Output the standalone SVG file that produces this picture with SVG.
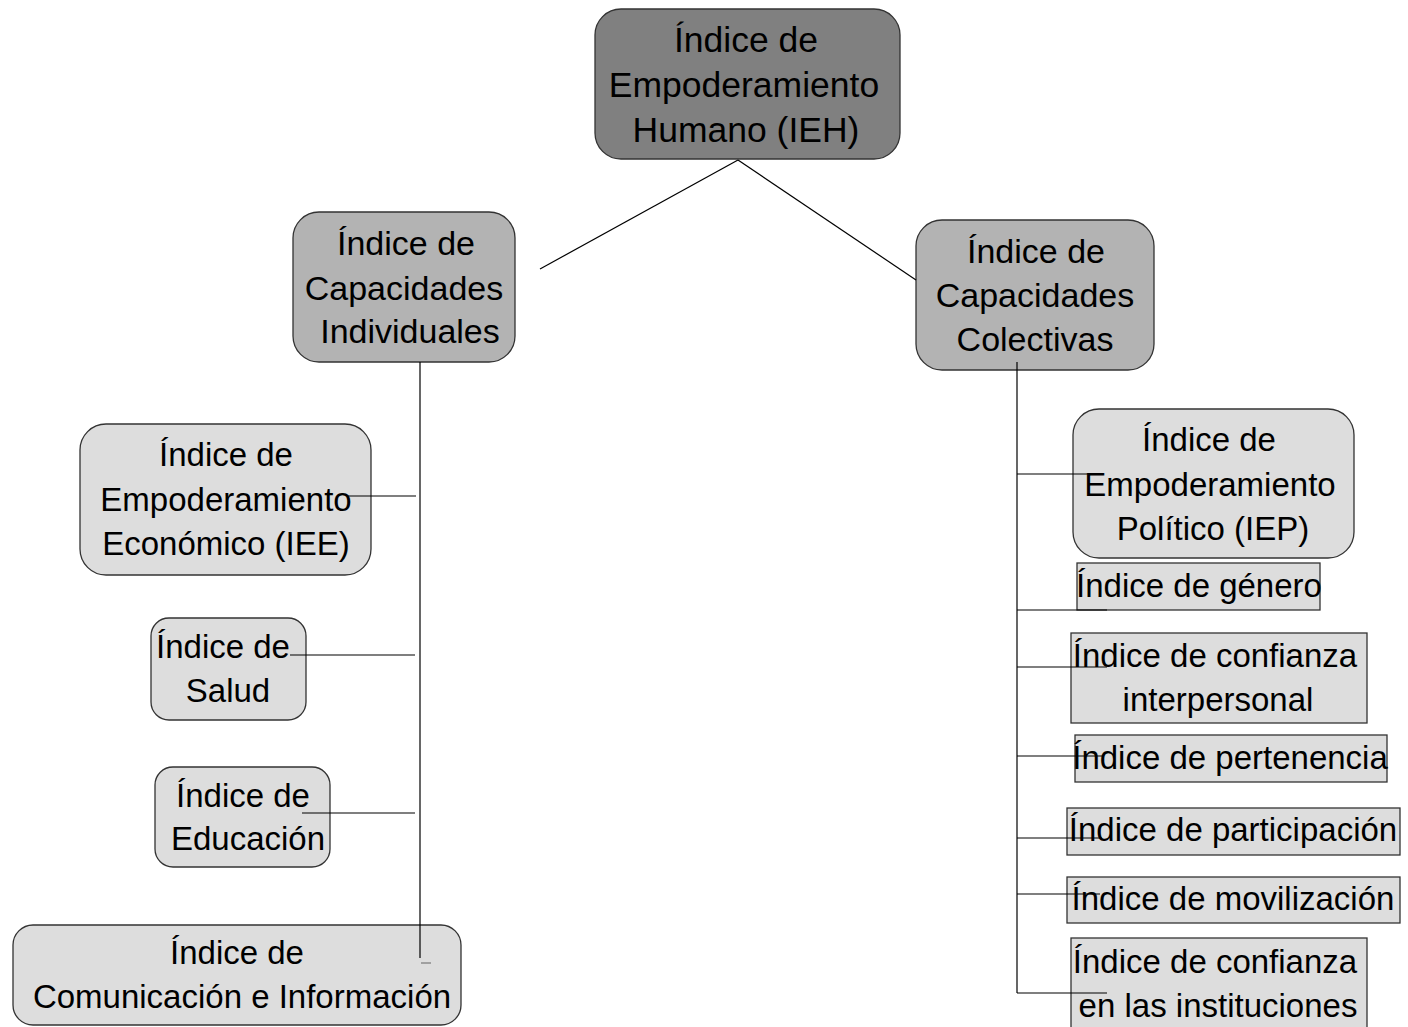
<svg xmlns="http://www.w3.org/2000/svg" width="1408" height="1027" viewBox="0 0 1408 1027">
<style>
.t{font-family:"Liberation Sans",Arial,sans-serif;fill:#000;text-anchor:middle}
.f33{font-size:33px}
.f34{font-size:34px}
.f35{font-size:35.5px}
.b{stroke:#333;stroke-width:1.3}
.c{stroke:#000;stroke-width:1.2;fill:none}
</style>
<rect width="1408" height="1027" fill="#fff"/>
<g id="ieh">
<rect class="b" x="595" y="9" width="305" height="150" rx="26" fill="#808080"/>
<text class="t f35" x="746" y="52">Índice de</text>
<text class="t f35" x="744" y="97">Empoderamiento</text>
<text class="t f35" x="746" y="142">Humano (IEH)</text>
</g>
<g id="ici">
<rect class="b" x="293" y="212" width="222" height="150" rx="26" fill="#b3b3b3"/>
<text class="t f34" x="406" y="255">Índice de</text>
<text class="t f34" x="404" y="300">Capacidades</text>
<text class="t f34" x="410" y="343">Individuales</text>
</g>
<g id="icc">
<rect class="b" x="916" y="220" width="238" height="150" rx="26" fill="#b3b3b3"/>
<text class="t f34" x="1036" y="263">Índice de</text>
<text class="t f34" x="1035" y="307">Capacidades</text>
<text class="t f34" x="1035" y="351">Colectivas</text>
</g>
<g id="iee">
<rect class="b" x="80" y="424" width="291" height="151" rx="26" fill="#dddddd"/>
<text class="t f33" x="226" y="466">Índice de</text>
<text class="t f33" x="226" y="511">Empoderamiento</text>
<text class="t f33" x="226" y="555">Económico (IEE)</text>
</g>
<g id="salud">
<rect class="b" x="151" y="618" width="155" height="102" rx="18" fill="#dddddd"/>
<text class="t f33" x="223" y="658">Índice de</text>
<text class="t f33" x="228" y="702">Salud</text>
</g>
<g id="educacion">
<rect class="b" x="155" y="767" width="175" height="100" rx="18" fill="#dddddd"/>
<text class="t f33" x="243" y="807">Índice de</text>
<text class="t f33" x="248" y="850">Educación</text>
</g>
<g id="comunicacion">
<rect class="b" x="13" y="925" width="448" height="100" rx="20" fill="#dddddd"/>
<text class="t f33" x="237" y="964">Índice de</text>
<text class="t f33" x="242" y="1008">Comunicación e Información</text>
</g>
<g id="iep">
<rect class="b" x="1073" y="409" width="281" height="149" rx="26" fill="#dddddd"/>
<text class="t f33" x="1209" y="451">Índice de</text>
<text class="t f33" x="1210" y="496">Empoderamiento</text>
<text class="t f33" x="1213" y="540">Político (IEP)</text>
</g>
<g id="genero">
<rect class="b" x="1077" y="563" width="243" height="47" fill="#dddddd"/>
<text class="t f33" x="1199" y="597">Índice de género</text>
</g>
<g id="confianza-interpersonal">
<rect class="b" x="1071" y="633" width="296" height="90" fill="#dddddd"/>
<text class="t f33" x="1215" y="667">Índice de confianza</text>
<text class="t f33" x="1218" y="711">interpersonal</text>
</g>
<g id="pertenencia">
<rect class="b" x="1075" y="735" width="312" height="47" fill="#dddddd"/>
<text class="t f33" x="1230" y="769">Índice de pertenencia</text>
</g>
<g id="participacion">
<rect class="b" x="1067" y="808" width="333" height="47" fill="#dddddd"/>
<text class="t f33" x="1233" y="841">Índice de participación</text>
</g>
<g id="movilizacion">
<rect class="b" x="1067" y="877" width="333" height="46" fill="#dddddd"/>
<text class="t f33" x="1233" y="910">Índice de movilización</text>
</g>
<g id="confianza-instituciones">
<rect class="b" x="1071" y="938" width="296" height="100" fill="#dddddd"/>
<text class="t f33" x="1215" y="973">Índice de confianza</text>
<text class="t f33" x="1218" y="1017">en las instituciones</text>
</g>
<g id="connectors">
<line class="c" x1="738" y1="160" x2="540" y2="269"/>
<line class="c" x1="738" y1="160" x2="916" y2="280"/>
<line class="c" x1="420" y1="362" x2="420" y2="958"/>
<line x1="421" y1="963" x2="431" y2="963" stroke="#777" stroke-width="1.2"/>
<line class="c" x1="348" y1="496" x2="416" y2="496"/>
<line class="c" x1="290" y1="655" x2="415" y2="655"/>
<line class="c" x1="302" y1="813" x2="415" y2="813"/>
<line class="c" x1="1017" y1="362" x2="1017" y2="993"/>
<line class="c" x1="1017" y1="474" x2="1100" y2="474"/>
<line class="c" x1="1017" y1="610" x2="1107" y2="610"/>
<line class="c" x1="1017" y1="667" x2="1107" y2="667"/>
<line class="c" x1="1017" y1="756" x2="1103" y2="756"/>
<line class="c" x1="1017" y1="838" x2="1102" y2="838"/>
<line class="c" x1="1017" y1="894" x2="1100" y2="894"/>
<line class="c" x1="1017" y1="993" x2="1107" y2="993"/>
</g>
</svg>
